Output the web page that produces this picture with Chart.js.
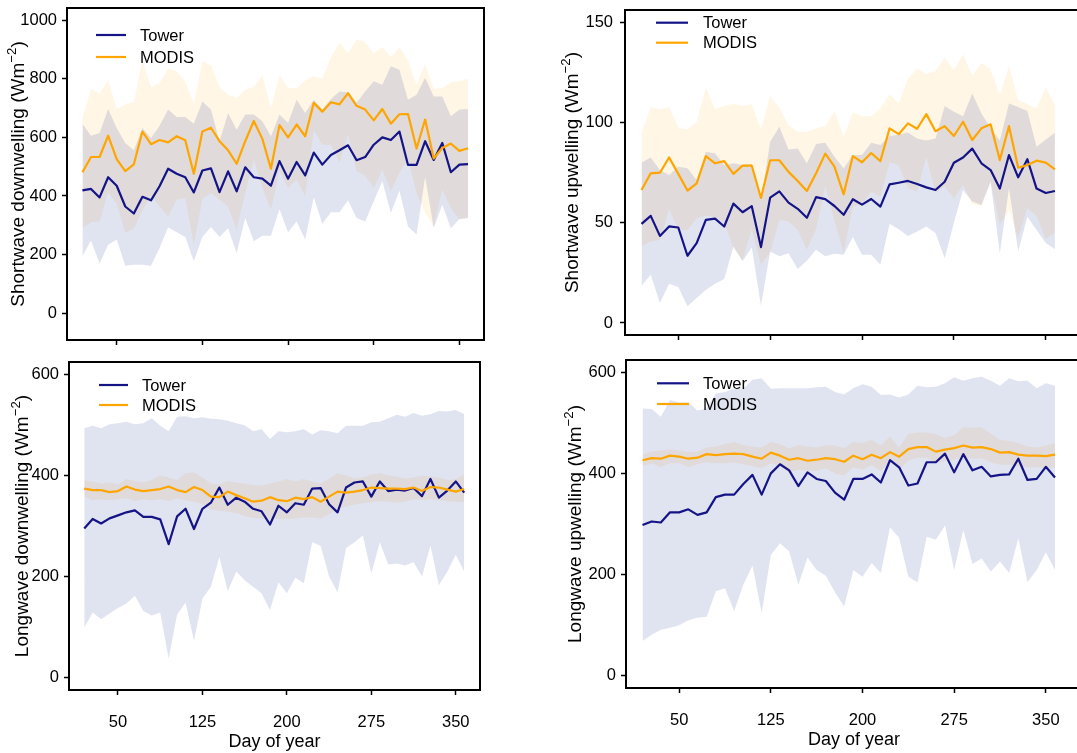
<!DOCTYPE html>
<html>
<head>
<meta charset="utf-8">
<script src="https://cdn.jsdelivr.net/npm/chart.js@4.4.0/dist/chart.umd.min.js"></script>
<style>
html,body{margin:0;padding:0;width:1077px;height:753px;overflow:hidden;background:#fff;}
canvas{position:absolute;}
</style>
</head>
<body>
<script>
// ---------- data ----------
const days = [20,27.5,35,42.5,50,57.5,65,72.5,80,87.5,95,102.5,110,117.5,125,132.5,140,147.5,155,162.5,170,177.5,185,192.5,200,207.5,215,222.5,230,237.5,245,252.5,260,267.5,275,282.5,290,297.5,305,312.5,320,327.5,335,342.5,350,357.5];
const xTickValues = [50,125,200,275,350];
const seriesNames = ['Tower','MODIS'];
const xTitle = 'Day of year';
const yTitles = ['Shortwave downwelling (Wm','Shortwave upwelling (Wm','Longwave downwelling (Wm','Longwave upwelling (Wm'];
const yTitleSup = '\u22122';

// Shortwave downwelling
const swdTower   = [419,424,395,464,435,364,340,397,385,433,493,476,464,412,487,494,413,484,416,498,464,459,435,519,459,516,470,548,507,540,556,573,522,533,575,600,591,620,506,506,587,523,581,481,507,509];
const swdTowerLo = [194,248,169,233,251,162,165,165,162,222,293,276,260,177,260,294,260,290,205,325,245,264,264,355,276,313,251,396,305,344,344,385,325,313,382,450,342,419,296,268,465,290,370,290,321,325];
const swdTowerHi = [647,606,615,697,632,581,556,632,598,640,695,670,670,647,723,695,587,683,626,678,678,655,604,678,649,729,683,729,695,731,757,753,718,757,792,780,843,831,729,746,804,740,740,672,695,697];
const swdModis   = [481,533,533,606,526,485,508,620,577,591,583,604,590,476,620,633,587,556,510,587,656,595,493,642,600,644,604,718,688,720,713,751,708,695,658,697,647,679,680,562,661,528,564,579,554,563];
const swdModisLo = [290,310,313,412,374,273,290,351,401,364,330,387,393,233,390,410,387,364,285,410,524,427,353,484,427,456,399,624,575,575,513,609,484,469,427,490,416,478,526,410,342,296,421,359,319,325];
const swdModisHi = [666,765,749,795,697,712,720,866,771,786,835,826,792,715,860,846,772,746,735,763,772,813,700,813,769,769,794,809,800,875,923,888,934,925,886,909,875,908,863,780,851,765,769,788,792,800];
const swdTicks = [0,200,400,600,800,1000];

// Shortwave upwelling
const swuTower   = [49.4,53.4,43.4,48.1,47.6,33.5,39.8,51.4,52.0,48.1,59.5,55.2,58.2,37.8,62.5,65.6,60.0,56.9,52.4,62.7,61.7,58.3,53.9,61.7,59.0,61.8,58.0,69.1,69.9,70.8,69.3,67.6,66.3,70.4,79.9,82.5,86.9,79.6,76.2,67.0,83.7,72.6,81.6,67.0,64.8,65.8];
const swuTowerLo = [18.6,24.0,9.9,19.6,17.9,8.3,12.4,16.6,19.6,21.9,38.1,30.7,37.8,8.6,35.6,33.2,34.8,26.9,31.0,36.5,33.2,34.5,34.0,42.8,34.0,34.0,29.0,49.4,46.7,43.4,45.6,48.1,44.8,32.3,50.0,66.3,60.5,58.8,70.4,34.8,67.1,35.6,53.0,46.4,39.8,36.8];
const swuTowerHi = [79.9,82.5,76.2,73.8,77.9,77.1,71.3,85.4,84.5,78.7,79.6,78.7,79.2,61.3,90.3,97.8,86.5,87.0,79.6,89.2,89.8,82.9,77.1,83.7,83.7,89.8,88.7,93.2,94.0,95.0,92.0,91.0,92.0,108.1,105.3,103.0,114.4,104.4,97.0,91.0,109.4,107.7,105.6,87.8,91.5,94.8];
const swuModis   = [66.3,74.6,74.9,82.5,74.3,66.0,69.6,83.2,79.6,80.7,74.3,78.4,78.4,62.3,81.1,81.1,75.3,70.8,65.8,74.6,84.4,77.9,64.1,83.2,80.1,84.7,80.7,97.0,94.1,99.5,96.8,104.1,95.6,98.1,93.2,100.3,91.2,97.0,99.0,81.2,98.1,77.4,78.7,80.9,79.9,76.6];
const swuModisLo = [38.1,40.6,41.4,56.7,46.4,46.4,52.2,53.4,52.7,50.1,37.3,31.2,46.7,29.0,35.1,51.4,50.6,46.4,36.5,46.7,68.0,51.1,34.8,58.0,59.3,65.5,63.0,79.9,78.7,67.1,65.5,82.9,64.6,68.0,62.2,68.8,59.3,58.3,70.4,48.9,56.4,42.3,57.2,53.4,41.8,44.8];
const swuModisHi = [94.8,107.7,106.4,107.7,97.3,96.5,100.3,117.4,106.7,108.1,109.4,108.1,109.1,96.5,113.0,107.4,98.6,95.3,95.3,97.0,98.1,105.6,92.8,104.9,103.1,103.1,106.9,114.0,109.4,121.8,126.8,124.0,125.6,132.3,126.0,133.9,123.5,129.6,126.3,113.5,128.0,111.1,109.1,106.9,117.4,108.6];
const swuTicks = [0,50,100,150];

// Longwave downwelling
const lwdTower   = [295,314,305,315,321,327,331,318,318,313,264,319,334,294,334,346,376,342,356,348,334,329,303,340,327,345,342,374,375,343,327,376,386,388,358,388,369,372,370,375,359,393,356,370,388,366];
const lwdTowerLo = [99,129,116,127,138,147,162,132,123,129,38,125,149,73,157,180,239,171,210,193,180,167,134,189,167,198,187,268,261,200,169,256,268,281,206,268,224,226,222,229,200,262,183,210,243,210];
const lwdTowerHi = [493,498,493,501,503,506,501,503,513,498,487,516,517,513,515,512,511,508,503,499,487,491,472,487,485,487,491,481,489,487,483,498,498,498,505,506,513,520,516,523,518,521,527,526,529,521];
const lwdModis   = [374,371,371,367,369,378,372,369,371,373,378,371,367,377,371,358,357,368,361,355,348,350,357,351,349,356,353,357,348,358,368,366,368,371,376,375,374,374,373,376,369,377,376,372,368,373];
const lwdModisLo = [358,351,353,351,353,355,349,353,351,353,349,355,351,348,343,332,330,328,325,320,316,315,315,314,314,315,317,317,315,323,335,338,342,345,347,349,348,346,348,353,351,353,351,349,348,347];
const lwdModisHi = [391,388,384,386,382,393,389,386,391,400,396,391,404,406,396,384,382,389,386,384,381,380,384,388,393,388,393,388,384,394,404,400,394,396,402,404,400,398,394,396,400,398,396,391,393,402];
const lwdTicks = [0,200,400,600];

// Longwave upwelling
const lwuTower   = [298,305,303,323,323,329,318,323,353,358,358,379,397,358,400,418,406,375,402,389,385,362,348,389,389,398,382,426,412,376,380,422,422,439,402,438,406,413,394,397,398,429,387,389,413,392];
const lwuTowerLo = [69,81,91,95,100,110,115,117,167,173,128,180,218,124,239,262,246,180,234,209,198,165,137,209,196,223,203,293,273,196,185,275,269,297,209,288,221,232,206,226,203,272,185,209,244,209];
const lwuTowerHi = [528,527,512,545,540,540,524,528,558,561,567,567,585,588,567,568,568,568,568,570,571,561,556,568,576,571,555,556,550,556,573,570,571,578,590,583,588,591,583,573,588,582,583,568,578,573];
const lwuModis   = [426,430,429,435,433,429,431,438,436,438,439,438,433,429,441,435,427,430,425,427,430,428,423,435,428,437,430,442,433,448,452,452,443,447,450,455,451,452,448,441,442,437,435,435,434,437];
const lwuModisLo = [414,420,412,420,420,412,418,422,420,420,422,418,414,410,420,414,402,407,405,405,410,400,396,412,407,416,405,424,407,425,431,431,420,425,427,433,429,430,422,417,417,414,412,412,410,412];
const lwuModisHi = [437,443,445,447,445,442,443,451,453,458,462,456,453,451,462,458,449,456,453,451,456,455,450,462,460,466,455,473,451,478,481,481,478,470,476,491,490,491,479,466,464,460,453,451,455,460];
const lwuTicks = [0,200,400,600];

// ---------- style ----------
const FONT = '"Liberation Sans", Arial, Helvetica, sans-serif';
const TOWER_COL = '#141487';
const MODIS_COL = '#FFA500';
const TOWER_BAND = 'rgba(0,24,128,0.12)';
const MODIS_BAND = 'rgba(255,165,0,0.10)';
const TICK_FS = 16.5, LEGEND_FS = 16.5, XTITLE_FS = 18, YTITLE_FS = 19;

const panels = [
  {left:0, top:0, w:540, h:355, area:{L:67,T:8,R:484,B:340}, xmin:6.48, xmax:371.52, ymin:-92, ymax:1042,
   yTicks:swdTicks, xLabels:false, title:yTitles[0], titleX:19, yPad:5,
   leg:{x1:29,x2:59,y1:27,y2:49,tx:73},
   tower:swdTower, towerLo:swdTowerLo, towerHi:swdTowerHi, modis:swdModis, modisLo:swdModisLo, modisHi:swdModisHi},
  {left:540, top:0, w:560, h:355, area:{L:85,T:10,R:542,B:335}, xmin:6.5, xmax:379.6, ymin:-6, ymax:156,
   yTicks:swuTicks, xLabels:false, title:yTitles[1], titleX:33, yPad:7,
   leg:{x1:31,x2:63,y1:12.7,y2:32.7,tx:78},
   tower:swuTower, towerLo:swuTowerLo, towerHi:swuTowerHi, modis:swuModis, modisLo:swuModisLo, modisHi:swuModisHi},
  {left:0, top:355, w:540, h:398, area:{L:69,T:7,R:480,B:335}, xmin:6.48, xmax:371.52, ymin:-24, ymax:624,
   yTicks:lwdTicks, xLabels:true, title:yTitles[2], titleX:23, yPad:5, xTitlePadB:1,
   leg:{x1:30,x2:59,y1:23,y2:43,tx:73},
   tower:lwdTower, towerLo:lwdTowerLo, towerHi:lwdTowerHi, modis:lwdModis, modisLo:lwdModisLo, modisHi:lwdModisHi},
  {left:540, top:355, w:560, h:398, area:{L:86,T:5,R:542,B:333}, xmin:6.5, xmax:379.6, ymin:-24, ymax:624,
   yTicks:lwuTicks, xLabels:true, title:yTitles[3], titleX:36, yPad:5, xTitlePadB:3,
   leg:{x1:31,x2:63,y1:23.3,y2:44,tx:77},
   tower:lwuTower, towerLo:lwuTowerLo, towerHi:lwuTowerHi, modis:lwuModis, modisLo:lwuModisLo, modisHi:lwuModisHi}
];

// ---------- plugins ----------
const framePlugin = {
  id: 'frame',
  afterDraw(chart) {
    const {ctx, chartArea: a} = chart;
    ctx.save();
    ctx.strokeStyle = '#000';
    ctx.lineWidth = 2;
    ctx.strokeRect(a.left, a.top, a.right - a.left, a.bottom - a.top);
    ctx.restore();
  }
};

const legendPlugin = {
  id: 'panelLegend',
  afterDraw(chart, args, o) {
    const {ctx, chartArea: a} = chart;
    const items = [[seriesNames[0], TOWER_COL, o.y1], [seriesNames[1], MODIS_COL, o.y2]];
    ctx.save();
    items.forEach(([name, col, y]) => {
      ctx.strokeStyle = col;
      ctx.lineWidth = 2.2;
      ctx.beginPath();
      ctx.moveTo(a.left + o.x1, a.top + y);
      ctx.lineTo(a.left + o.x2, a.top + y);
      ctx.stroke();
      ctx.fillStyle = '#000';
      ctx.font = LEGEND_FS + 'px ' + FONT;
      ctx.textBaseline = 'middle';
      ctx.textAlign = 'left';
      ctx.fillText(name, a.left + o.tx, a.top + y + 1);
    });
    ctx.restore();
  }
};

const yTitlePlugin = {
  id: 'yTitle',
  afterDraw(chart, args, o) {
    const {ctx, chartArea: a} = chart;
    const fs = YTITLE_FS;
    const main = fs + 'px ' + FONT;
    const sup = (fs * 0.7) + 'px ' + FONT;
    ctx.save();
    ctx.translate(o.x, (a.top + a.bottom) / 2);
    ctx.rotate(-Math.PI / 2);
    ctx.fillStyle = '#000';
    ctx.textBaseline = 'alphabetic';
    ctx.textAlign = 'left';
    ctx.font = main;
    const w1 = ctx.measureText(o.text).width;
    const w3 = ctx.measureText(')').width;
    ctx.font = sup;
    const w2 = ctx.measureText(yTitleSup).width;
    const x0 = -(w1 + w2 + w3) / 2;
    const base = fs * 0.26;
    ctx.font = main;
    ctx.fillText(o.text, x0, base);
    ctx.font = sup;
    ctx.fillText(yTitleSup, x0 + w1, base - fs * 0.42);
    ctx.font = main;
    ctx.fillText(')', x0 + w1 + w2, base);
    ctx.restore();
  }
};

// ---------- build ----------
function pts(arr) { return days.map((d, i) => ({x: d, y: arr[i]})); }
const NONE = 'rgba(0,0,0,0)';

function makeChart(p) {
  const c = document.createElement('canvas');
  c.width = p.w; c.height = p.h;
  c.style.left = p.left + 'px'; c.style.top = p.top + 'px';
  c.style.width = p.w + 'px'; c.style.height = p.h + 'px';
  document.body.appendChild(c);
  const a = p.area;
  const band = {pointRadius: 0, borderColor: NONE, borderWidth: 1, tension: 0};
  const line = {pointRadius: 0, borderWidth: 2.2, fill: false, tension: 0, borderJoinStyle: 'round'};
  new Chart(c, {
    type: 'line',
    data: {
      datasets: [
        Object.assign({data: pts(p.modisLo), fill: false, order: 6}, band),
        Object.assign({data: pts(p.modisHi), fill: '-1', backgroundColor: MODIS_BAND, order: 5}, band),
        Object.assign({data: pts(p.towerLo), fill: false, order: 4}, band),
        Object.assign({data: pts(p.towerHi), fill: '-1', backgroundColor: TOWER_BAND, order: 3}, band),
        Object.assign({data: pts(p.tower), borderColor: TOWER_COL, order: 2}, line),
        Object.assign({data: pts(p.modis), borderColor: MODIS_COL, order: 1}, line)
      ]
    },
    options: {
      responsive: false,
      animation: false,
      devicePixelRatio: 1,
      events: [],
      layout: {padding: {left: 0, top: a.T, right: p.w - a.R, bottom: 0}},
      plugins: {
        legend: {display: false},
        tooltip: {enabled: false},
        panelLegend: p.leg,
        yTitle: {text: p.title, x: p.titleX}
      },
      scales: {
        x: {
          type: 'linear', min: p.xmin, max: p.xmax,
          afterBuildTicks: s => { s.ticks = xTickValues.map(v => ({value: v})); },
          afterFit: s => { s.height = p.h - a.B; s.paddingLeft = 0; s.paddingRight = 0; s.paddingTop = 0; s.paddingBottom = 0; },
          grid: {drawOnChartArea: false, drawTicks: true, tickLength: 5, tickWidth: 1.5, tickColor: '#000'},
          border: {display: false},
          ticks: {display: p.xLabels, color: '#000', font: {family: FONT, size: TICK_FS}, padding: 18, maxRotation: 0, autoSkip: false,
                  callback: v => String(v)},
          title: {display: p.xLabels, text: xTitle, color: '#000', font: {family: FONT, size: XTITLE_FS, lineHeight: 1.1}, padding: {top: 0, bottom: p.xTitlePadB || 0}}
        },
        y: {
          type: 'linear', min: p.ymin, max: p.ymax,
          afterBuildTicks: s => { s.ticks = p.yTicks.map(v => ({value: v})); },
          afterFit: s => { s.width = a.L; s.paddingTop = 0; s.paddingBottom = 0; s.paddingLeft = 0; s.paddingRight = 0; },
          grid: {drawOnChartArea: false, drawTicks: true, tickLength: 5, tickWidth: 1.5, tickColor: '#000'},
          border: {display: false},
          ticks: {color: '#000', font: {family: FONT, size: TICK_FS}, padding: p.yPad, autoSkip: false,
                  callback: v => String(v)}
        }
      }
    },
    plugins: [framePlugin, legendPlugin, yTitlePlugin]
  });
}

panels.forEach(makeChart);
</script>
</body>
</html>
